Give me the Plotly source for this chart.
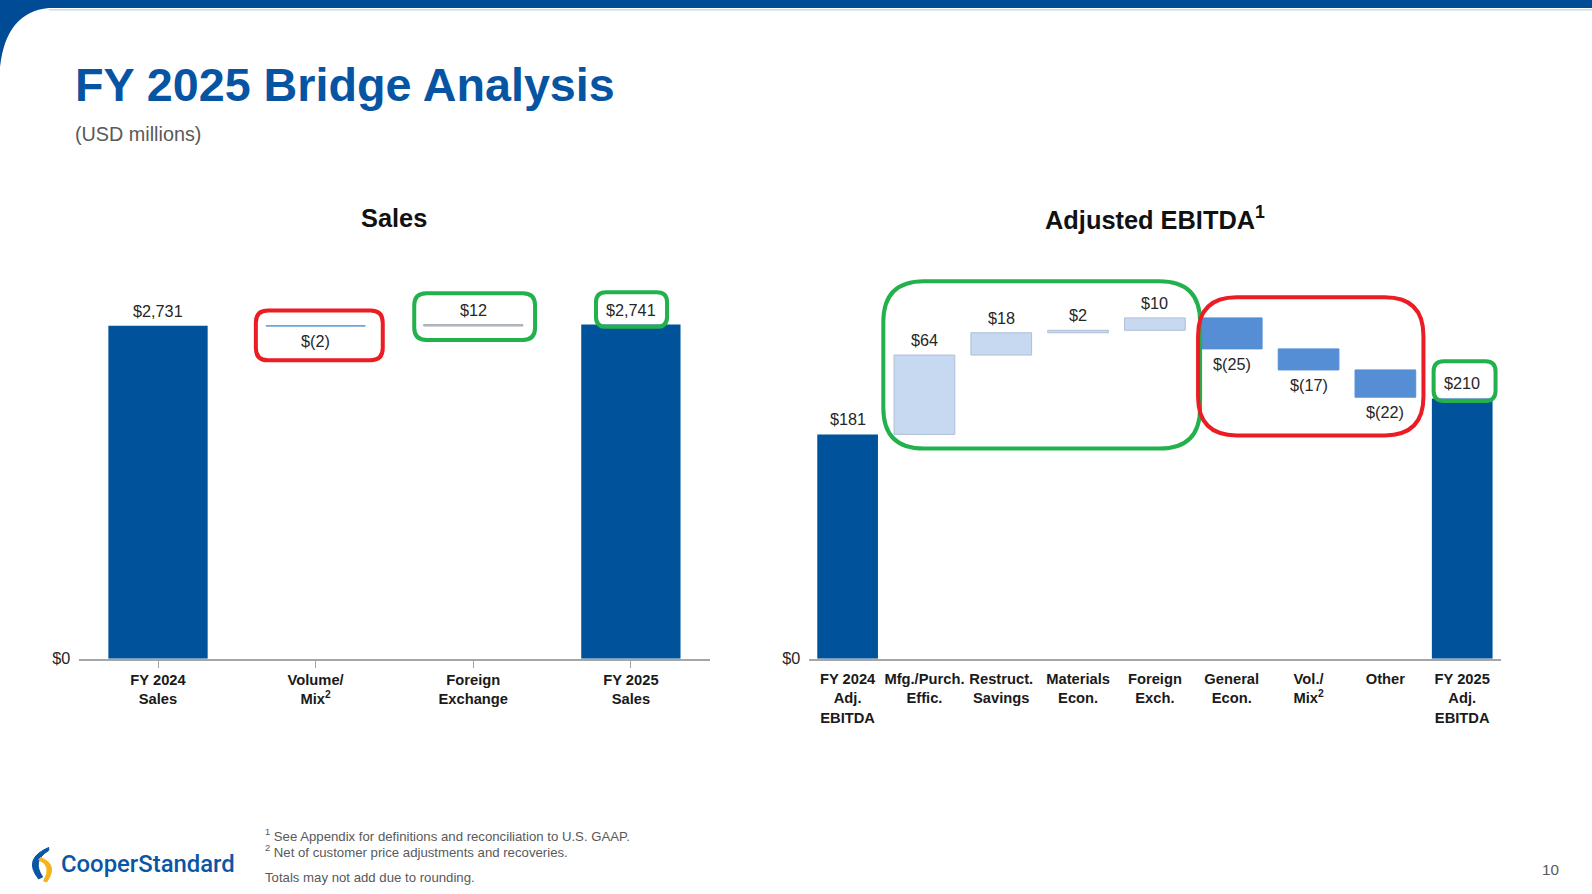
import plotly.graph_objects as go

W, H = 1592, 894
# reference positions were measured on a 1568x872 view of the slide
DW, DH = 1568, 872
FS = W / DW  # font scale from measured view to real pixels

# ---- data ----
sales_labels = ["FY 2024<br>Sales", "Volume/<br>Mix<sup>2</sup>", "Foreign<br>Exchange", "FY 2025<br>Sales"]
sales_values = [2731, -2, 12, 2741]
sales_measures = ["absolute", "relative", "relative", "absolute"]

ebitda_labels = ["FY 2024<br>Adj.<br>EBITDA", "Mfg./Purch.<br>Effic.", "Restruct.<br>Savings",
                 "Materials<br>Econ.", "Foreign<br>Exch.", "General<br>Econ.",
                 "Vol./<br>Mix<sup>2</sup>", "Other", "FY 2025<br>Adj.<br>EBITDA"]
ebitda_values = [181, 64, 18, 2, 10, -25, -17, -22, 210]
ebitda_measures = ["absolute"] + ["relative"] * 7 + ["absolute"]


def money(v):
    return "$" + f"{v:,}" if v >= 0 else "$(" + f"{-v:,}" + ")"


FONT = "Liberation Sans, Arial, sans-serif"
DARK = "#00529b"
LIGHT = "#c6d9f1"
MID = "#558ed5"
TXT = "#262626"


def fs(s):
    return round(s * FS, 2)


def px(x, y):
    return x / DW, 1 - y / DH


def pt(x, y):
    a, b = px(x, y)
    return f"{a:.5f},{b:.5f}"


def rrect(x0, y0, x1, y1, r):
    return (f"M {pt(x0 + r, y0)} L {pt(x1 - r, y0)} Q {pt(x1, y0)} {pt(x1, y0 + r)} "
            f"L {pt(x1, y1 - r)} Q {pt(x1, y1)} {pt(x1 - r, y1)} L {pt(x0 + r, y1)} "
            f"Q {pt(x0, y1)} {pt(x0, y1 - r)} L {pt(x0, y0 + r)} Q {pt(x0, y0)} {pt(x0 + r, y0)} Z")


def path(segs):
    # one command per segment so plotly reads x/y params correctly
    return " ".join(cmd + " " + " ".join(pt(x, y) for x, y in pts) for cmd, pts in segs) + " Z"


fig = go.Figure()

fig.add_trace(go.Waterfall(
    x=sales_labels, y=sales_values, measure=sales_measures,
    increasing=dict(marker=dict(color="#b9bec6", line=dict(color="#a9aeb6", width=1))),
    decreasing=dict(marker=dict(color="#5b9bd5", line=dict(color="#5b9bd5", width=1))),
    totals=dict(marker=dict(color=DARK, line=dict(color=DARK, width=0))),
    connector=dict(visible=False), xaxis="x", yaxis="y", showlegend=False, hoverinfo="skip",
    width=[0.63] * len(sales_values),
))

fig.add_trace(go.Waterfall(
    x=ebitda_labels, y=ebitda_values, measure=ebitda_measures,
    increasing=dict(marker=dict(color=LIGHT, line=dict(color="#aebfd6", width=1))),
    decreasing=dict(marker=dict(color=MID, line=dict(color=MID, width=1))),
    totals=dict(marker=dict(color=DARK, line=dict(color=DARK, width=0))),
    connector=dict(visible=False), xaxis="x2", yaxis="y2", showlegend=False, hoverinfo="skip",
    width=[0.79] * len(ebitda_values),
))


# value labels: above rising/total bars, below falling ones
def add_value_labels(labels, values, measures, xref, yref):
    level = 0
    for lab, v, m in zip(labels, values, measures):
        if m == "absolute":
            start, end = 0, v
        else:
            start, end = level, level + v
        level = end
        up = v >= 0
        fig.add_annotation(x=lab, y=max(start, end) if up else min(start, end), xref=xref, yref=yref,
                           text=money(v), showarrow=False,
                           yanchor="bottom" if up else "top", yshift=4 if up else -4,
                           font=dict(size=fs(16), color=TXT, family=FONT))


add_value_labels(sales_labels, sales_values, sales_measures, "x", "y")
add_value_labels(ebitda_labels, ebitda_values, ebitda_measures, "x2", "y2")

axis_common = dict(showgrid=False, zeroline=False, fixedrange=True)
tickfont = dict(size=fs(14.5), color="#1a1a1a", family=FONT)

fig.update_layout(
    width=W, height=H, margin=dict(l=0, r=0, t=0, b=0),
    paper_bgcolor="white", plot_bgcolor="white",
    font=dict(family=FONT, color=TXT),
    xaxis=dict(domain=[78 / DW, 699 / DW], showline=True, linecolor="#a6a6a6", linewidth=2,
               ticks="outside", ticklen=7, tickcolor="#a6a6a6", tickwidth=1,
               tickvals=sales_labels, ticktext=["<b>" + s + "</b>" for s in sales_labels],
               tickfont=tickfont, **axis_common),
    yaxis=dict(domain=[1 - 649 / DH, 1 - 260 / DH], range=[0, 3239], tickvals=[0], ticktext=["$0"],
               showline=False, ticks="", tickfont=dict(size=fs(16), color=TXT), ticklabelstandoff=8,
               **axis_common),
    xaxis2=dict(domain=[797 / DW, 1478 / DW], showline=True, linecolor="#a6a6a6", linewidth=2,
                ticks="", ticklabelstandoff=6, anchor="y2",
                tickvals=ebitda_labels, ticktext=["<b>" + s + "</b>" for s in ebitda_labels],
                tickfont=tickfont, **axis_common),
    yaxis2=dict(domain=[1 - 649 / DH, 1 - 260 / DH], range=[0, 318.6], tickvals=[0], ticktext=["$0"],
                showline=False, ticks="", tickfont=dict(size=fs(16), color=TXT), anchor="x2",
                ticklabelstandoff=8, **axis_common),
)

shapes = []
# top band with curved corner
shapes.append(dict(type="path", xref="paper", yref="paper", layer="above",
                   path=path([("M", [(0, 0)]), ("L", [(DW, 0)]), ("L", [(DW, 8)]), ("L", [(48, 8)]),
                              ("Q", [(6, 12), (0, 66)])]),
                   fillcolor="#004b96", line=dict(width=0)))
shapes.append(dict(type="line", xref="paper", yref="paper", x0=48 / DW, x1=1, y0=1 - 9.5 / DH, y1=1 - 9.5 / DH,
                   line=dict(color="#bfe0f0", width=1.5)))

RED = "#ec1c24"
GREEN = "#22b14c"
boxes = [
    ((252, 306, 377, 355, 12), RED),
    ((408, 289, 527, 335, 12), GREEN),
    ((587, 288, 657, 322, 10), GREEN),
    ((870, 277, 1182, 442, 40), GREEN),
    ((1180, 293, 1402, 429, 38), RED),
    ((1412, 356, 1473, 395, 10), GREEN),
]
for (x0, y0, x1, y1, r), c in boxes:
    shapes.append(dict(type="path", xref="paper", yref="paper", path=rrect(x0, y0, x1, y1, r),
                       line=dict(color=c, width=4), fillcolor="rgba(0,0,0,0)"))

# logo swooshes
shapes.append(dict(type="path", xref="paper", yref="paper",
                   path=path([("M", [(48, 835)]), ("Q", [(22, 846), (38, 866)]),
                              ("L", [(42, 864)]), ("Q", [(31, 848), (48, 838)])]),
                   fillcolor="#0a56a5", line=dict(color="#0a56a5", width=1)))
shapes.append(dict(type="path", xref="paper", yref="paper",
                   path=path([("M", [(40, 845)]), ("Q", [(58, 852), (46, 869)]),
                              ("L", [(43, 868)]), ("Q", [(52, 853), (38, 847)])]),
                   fillcolor="#f5b21b", line=dict(color="#f5b21b", width=1)))
fig.update_layout(shapes=shapes)


def note(x, y, text, size, color=TXT, bold=False, anchor="left", family=FONT, weight=None):
    ax, ay = px(x, y)
    if bold:
        text = "<b>" + text + "</b>"
    f = dict(size=fs(size), color=color, family=family)
    if weight:
        f["weight"] = weight
    fig.add_annotation(x=ax, y=ay, xref="paper", yref="paper", text=text, showarrow=False,
                       xanchor=anchor, yanchor="middle", font=f)


note(72, 84, "FY 2025 Bridge Analysis", 46, color="#0754a3", bold=True)
note(72, 132, "(USD millions)", 19.5, color="#595959")
note(388, 215, "Sales", 25, color="#111111", bold=True, anchor="center")
note(1138, 215, "Adjusted EBITDA<sup>1</sup>", 25, color="#111111", bold=True, anchor="center")
note(259, 823, "<sup>1</sup> See Appendix for definitions and reconciliation to U.S. GAAP.", 13, color="#595959")
note(259, 839, "<sup>2</sup> Net of customer price adjustments and recoveries.", 13, color="#595959")
note(259, 865, "Totals may not add due to rounding.", 13, color="#595959")
note(1527, 857, "10", 15, color="#595959", anchor="center")
note(58, 851, "CooperStandard", 23.5, color="#0a56a5", family="Roboto, Liberation Sans, sans-serif", weight=500)

fig.write_html(
    "out.html",
    config={"displayModeBar": False},
    post_script="document.body.style.margin='0';"
                "document.body.style.overflow='hidden';"
                "document.documentElement.style.overflow='hidden';",
)
